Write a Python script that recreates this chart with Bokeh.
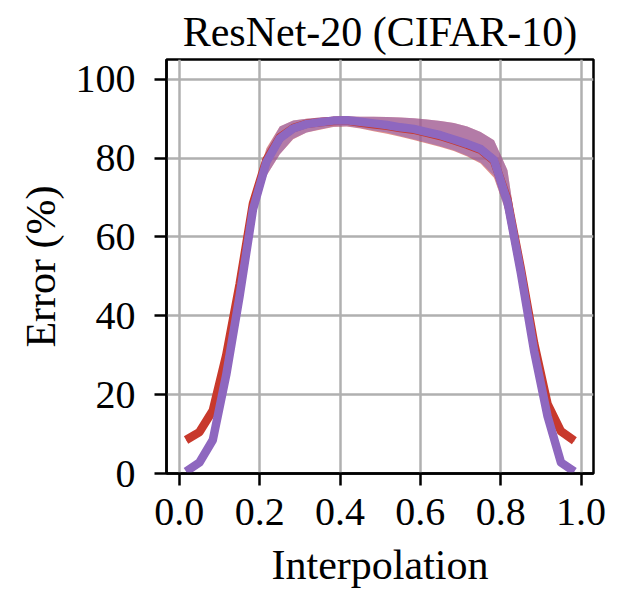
from bokeh.plotting import figure
from bokeh.models import Range1d, FixedTicker, PrintfTickFormatter, ColumnDataSource, Title
from bokeh.embed import file_html
from bokeh.resources import INLINE

# ---- data ----
interp = [0.0167, 0.05, 0.0833, 0.1167, 0.15, 0.1833, 0.2167, 0.25, 0.2833, 0.3167,
          0.35, 0.3833, 0.4167, 0.45, 0.4833, 0.5167, 0.55, 0.5833, 0.6167, 0.65,
          0.6833, 0.7167, 0.75, 0.7833, 0.8167, 0.85, 0.8833, 0.9167, 0.95, 0.9833]

red_mean = [8.5, 10.5, 16, 30, 48, 68.5, 79.5, 85.2, 87.6, 88.7, 89.1, 89.4, 89.5, 89.0, 88.6,
            88.2, 87.6, 87.2, 86.4, 85.6, 84.5, 83.4, 82.1, 79.3, 69.5, 52, 33, 17.6, 10.7, 8.3]
red_lo = [8.2, 10.2, 15.5, 29, 46.5, 65.5, 75.5, 81.0, 84.8, 86.5, 87.2, 87.9, 88.0, 87.5, 86.8,
          86.2, 85.4, 84.6, 83.7, 82.8, 81.8, 80.4, 78.6, 75.0, 65.5, 50, 32, 17.0, 10.4, 8.0]
red_hi = [8.8, 10.8, 16.5, 31, 49.5, 71, 82.5, 88.0, 89.5, 90.0, 90.3, 90.5, 90.6, 90.5, 90.5,
          90.4, 90.3, 90.1, 89.8, 89.4, 88.9, 88.0, 86.6, 84.5, 77.0, 54.5, 34, 18.2, 11.0, 8.6]

purple_mean = [0.5, 2.8, 8.5, 25, 45, 67, 79, 85, 87.5, 88.6, 89.1, 89.5, 89.6, 89.2, 88.8,
               88.4, 87.8, 87.4, 86.6, 85.8, 84.7, 83.6, 82.3, 79.5, 69, 51, 31, 14.5, 2.8, 0.5]
purple_lo = [0.3, 2.5, 8.0, 24, 43.5, 64, 75.5, 81, 84.9, 86.5, 87.3, 88.0, 88.1, 87.6, 87.0,
             86.5, 85.6, 84.8, 83.9, 83.0, 82.0, 80.6, 78.9, 75.5, 65, 49, 30, 14.0, 2.5, 0.3]
purple_hi = [0.7, 3.1, 9.0, 26.5, 47, 70, 82, 88, 89.5, 90.0, 90.3, 90.5, 90.6, 90.5, 90.5,
             90.4, 90.3, 90.1, 89.8, 89.4, 88.9, 88.0, 86.6, 84.5, 77, 54, 32.5, 15.0, 3.1, 0.7]

x_ticks = [0.0, 0.2, 0.4, 0.6, 0.8, 1.0]
y_ticks = [0, 20, 40, 60, 80, 100]
title_text = "ResNet-20 (CIFAR-10)"

RED = "#c8392c"
PURPLE = "#8e67bf"
FONT = "Liberation Serif"

src = ColumnDataSource(dict(x=interp, rm=red_mean, rl=red_lo, rh=red_hi,
                            pm=purple_mean, pl=purple_lo, ph=purple_hi))

p = figure(frame_width=427, frame_height=414,
           x_range=Range1d(-0.032, 1.031), y_range=Range1d(0, 105),
           output_backend="svg", toolbar_location=None,
           min_border_left=166, min_border_right=27, min_border_top=59, min_border_bottom=116)

p.background_fill_color = "white"
p.border_fill_color = "white"
p.outline_line_color = "black"
p.outline_line_width = 2.5
p.outline_line_alpha = 1.0

p.add_layout(Title(text=title_text, align="center", text_font=FONT, text_font_size="42px",
                   text_font_style="normal", text_color="black", standoff=9), "above")

for ax in (p.xaxis[0], p.yaxis[0]):
    ax.major_label_text_font = FONT
    ax.major_label_text_font_size = "40px"
    ax.major_label_text_color = "black"
    ax.axis_label_text_font = FONT
    ax.axis_label_text_font_size = "42px"
    ax.axis_label_text_font_style = "normal"
    ax.axis_label_text_color = "black"
    ax.axis_line_color = "black"
    ax.axis_line_width = 2.5
    ax.major_tick_line_color = "black"
    ax.major_tick_line_width = 2.5
    ax.major_tick_in = 0
    ax.major_tick_out = 12
    ax.minor_tick_line_color = None

p.xaxis.ticker = FixedTicker(ticks=x_ticks)
p.xaxis.formatter = PrintfTickFormatter(format="%.1f")
p.yaxis.ticker = FixedTicker(ticks=y_ticks)
p.xaxis.axis_label = "Interpolation"
p.yaxis.axis_label = "Error (%)"
p.xaxis.major_label_standoff = 13
p.xaxis.axis_label_standoff = 14
p.yaxis.major_label_standoff = 19
p.yaxis.axis_label_standoff = 9

p.xgrid.grid_line_color = "#b0b0b0"
p.ygrid.grid_line_color = "#b0b0b0"
p.xgrid.grid_line_width = 2.5
p.ygrid.grid_line_width = 2.5

p.varea(x="x", y1="rl", y2="rh", source=src, fill_color=RED, fill_alpha=0.55)
p.varea(x="x", y1="pl", y2="ph", source=src, fill_color=PURPLE, fill_alpha=0.55)
p.line(x="x", y="rm", source=src, line_color=RED, line_width=8.5, line_join="round")
p.line(x="x", y="pm", source=src, line_color=PURPLE, line_width=8.5, line_join="round")

open("out.html", "w").write(file_html(p, INLINE))
